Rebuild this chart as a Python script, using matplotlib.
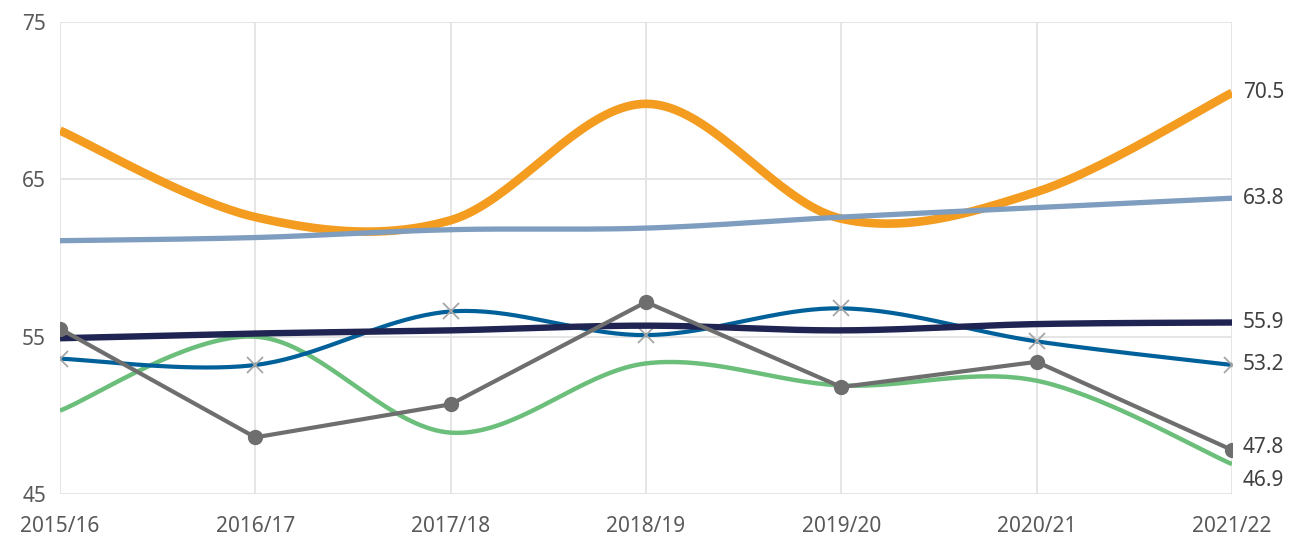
import matplotlib.pyplot as plt
import numpy as np

years = ['2015/16', '2016/17', '2017/18', '2018/19', '2019/20', '2020/21', '2021/22']
orange = [68.1, 62.6, 62.4, 69.8, 62.5, 64.2, 70.5]
steel = [61.1, 61.3, 61.8, 61.9, 62.6, 63.2, 63.8]
navy = [54.9, 55.2, 55.4, 55.7, 55.4, 55.8, 55.9]
blue = [53.6, 53.2, 56.6, 55.1, 56.8, 54.7, 53.2]
grey = [55.5, 48.6, 50.7, 57.2, 51.8, 53.4, 47.8]
green = [50.3, 55.0, 48.9, 53.3, 51.9, 52.2, 46.9]
yticks = [45, 55, 65, 75]


def smooth(y, n=40):
    """Excel-style smoothed line (Catmull-Rom as cubic Bezier)."""
    x = np.arange(len(y), dtype=float)
    y = np.asarray(y, dtype=float)
    pts = np.column_stack([x, y])
    ext = np.vstack([pts[0], pts, pts[-1]])
    t = np.linspace(0, 1, n)[:, None]
    out = []
    for i in range(len(pts) - 1):
        p0 = ext[i + 1]
        p3 = ext[i + 2]
        p1 = p0 + (ext[i + 2] - ext[i]) / 6
        p2 = p3 - (ext[i + 3] - ext[i + 1]) / 6
        seg = ((1 - t) ** 3) * p0 + 3 * ((1 - t) ** 2) * t * p1 + 3 * (1 - t) * t ** 2 * p2 + t ** 3 * p3
        out.append(seg if i == 0 else seg[1:])
    out = np.vstack(out)
    return out[:, 0], out[:, 1]


plt.rcParams['font.family'] = ['Noto Sans', 'DejaVu Sans']
fig = plt.figure(figsize=(12.95, 5.40), dpi=100)
ax = fig.add_axes([60 / 1295, 1 - 494 / 540, (1232 - 60) / 1295, (494 - 22) / 540])

xi = np.arange(len(years))

ax.plot(*smooth(green), color='#6BBF7A', lw=3.2, zorder=3, solid_capstyle='butt')
ax.plot(*smooth(blue), color='#00619A', lw=3.0, zorder=4, solid_capstyle='butt')
ax.plot(xi, blue, ls='none', marker='x', ms=11, mew=1.3, color='#A6A6A6', zorder=5)
ax.plot(*smooth(navy), color='#1F2452', lw=4.6, zorder=6, solid_capstyle='butt')
ax.plot(xi, grey, color='#6E6E6E', lw=3.0, marker='o', ms=10, zorder=7)
ax.plot(*smooth(orange), color='#F39C1F', lw=6.2, zorder=8, solid_capstyle='butt')
ax.plot(*smooth(steel), color='#7F9DBF', lw=3.8, zorder=9, solid_capstyle='butt')

# end labels
ends = [(orange[-1], 0), (steel[-1], 0), (navy[-1], 0), (blue[-1], 0), (grey[-1], 2), (green[-1], -12)]
for val, dy in ends:
    ax.annotate(f'{val:.1f}', xy=(xi[-1], val), xytext=(8, dy), textcoords='offset points',
                ha='left', va='center', fontsize=15, color='#404040', annotation_clip=False)

ax.set_xlim(0, len(years) - 1)
ax.set_ylim(45, 75)
ax.set_xticks(xi)
ax.set_xticklabels(years)
ax.set_yticks(yticks)
ax.tick_params(axis='both', length=0, labelsize=15, labelcolor='#595959')
ax.tick_params(axis='x', pad=16)
ax.tick_params(axis='y', pad=10)
ax.grid(True, color='#E3E3E3', lw=1.3, zorder=0)
ax.set_axisbelow(True)
for s in ax.spines.values():
    s.set_visible(False)

fig.savefig('out.png', dpi=100)
